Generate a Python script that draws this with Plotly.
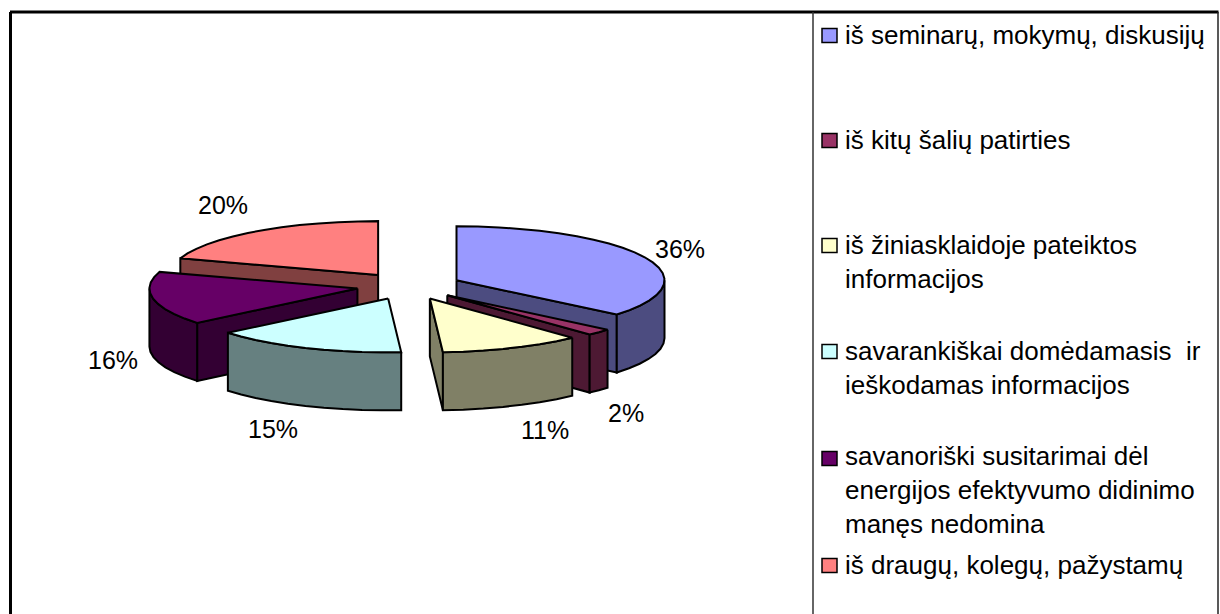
import math
import plotly.graph_objects as go

# ---- data ----
categories = [
    "iš seminarų, mokymų, diskusijų",
    "iš kitų šalių patirties",
    "iš žiniasklaidoje pateiktos<br>informacijos",
    "savarankiškai domėdamasis  ir<br>ieškodamas informacijos",
    "savanoriški susitarimai dėl<br>energijos efektyvumo didinimo<br>manęs nedomina",
    "iš draugų, kolegų, pažystamų",
]
values = [36, 2, 11, 15, 16, 20]

# ---- style ----
top_colors = ["#9999FF", "#993366", "#FFFFCC", "#CCFFFF", "#660066", "#FF8080"]
side_colors = ["#4C4C80", "#4D1933", "#808066", "#668080", "#330033", "#804040"]
FONT = "Liberation Sans, Arial, sans-serif"
PCT_SIZE = 25
LEG_SIZE = 26
LINE_W = 2

# ---- layout of the pie (projection in pixel-like axis units) ----
CX, CY = 409.0, 286.0      # pie centre
RX, RATIO = 208.0, 0.259   # radius, vertical squash
PULL = 52.5                # explosion distance
DEPTH = 58.0               # extrusion height
paint_order = [5, 4, 3, 0, 1, 2]
label_pos = [(680, 249), (626, 413), (545, 430), (273, 429), (113, 360), (223, 205)]
legend_y = [35, 140, 262, 368, 490, 565]   # vertical centre of each entry
legend_swatch_y = [35.5, 140.5, 245.5, 351.5, 458.5, 565.5]
LEG_TEXT_X, SW_X0, SW_X1 = 843, 822, 837

total = sum(values)
starts, cum = [], 0
for v in values:
    starts.append(cum)
    cum += v


def to_rad(share):
    return 2 * math.pi * share / total


def project(ax, ay, ang, r=RX):
    return ax + r * math.sin(ang), ay - r * RATIO * math.cos(ang)


def arc(ax, ay, a0, a1, n=60):
    steps = max(2, int(n * (a1 - a0) / (2 * math.pi)) + 2)
    pts = [project(ax, ay, a0 + (a1 - a0) * i / (steps - 1)) for i in range(steps)]
    return pts


def poly(pts, fill, name):
    xs = [p[0] for p in pts] + [pts[0][0]]
    ys = [p[1] for p in pts] + [pts[0][1]]
    return go.Scatter(
        x=xs, y=ys, mode="lines", fill="toself", fillcolor=fill, name=name,
        line=dict(color="black", width=LINE_W, simplify=False),
        showlegend=False, hoverinfo="name",
    )


fig = go.Figure()
for idx in paint_order:
    a0 = to_rad(starts[idx])
    a1 = to_rad(starts[idx] + values[idx])
    mid = (a0 + a1) / 2
    ax = CX + PULL * math.sin(mid)
    ay = CY - PULL * RATIO * math.cos(mid)
    name = categories[idx].replace("<br>", " ")
    # radial walls that face the viewer
    for ang, visible in ((a0, math.sin(a0) < -1e-9), (a1, math.sin(a1) > 1e-9)):
        if visible:
            p = project(ax, ay, ang)
            fig.add_trace(poly([(ax, ay), p, (p[0], p[1] + DEPTH), (ax, ay + DEPTH)],
                               side_colors[idx], name))
    # front outer wall
    w0, w1 = max(a0, math.pi / 2), min(a1, 3 * math.pi / 2)
    if w1 > w0:
        rim = arc(ax, ay, w0, w1)
        fig.add_trace(poly(rim + [(x, y + DEPTH) for x, y in reversed(rim)],
                           side_colors[idx], name))
    # top face
    fig.add_trace(poly([(ax, ay)] + arc(ax, ay, a0, a1), top_colors[idx], name))

shapes = [
    dict(type="line", x0=10.5, x1=10.5, y0=12, y1=614, line=dict(color="black", width=3)),
    dict(type="line", x0=10, x1=1218.5, y0=12, y1=12, line=dict(color="black", width=3)),
    dict(type="line", x0=813, x1=813, y0=12, y1=614, line=dict(color="#333333", width=1.5)),
    dict(type="line", x0=1218, x1=1218, y0=12, y1=614, line=dict(color="#222222", width=1.5)),
]
annotations = []
for v, (lx, ly) in zip(values, label_pos):
    annotations.append(dict(x=lx, y=ly, text=f"{v}%", showarrow=False,
                            font=dict(family=FONT, size=PCT_SIZE, color="black")))
for i, cat in enumerate(categories):
    sy = legend_swatch_y[i]
    shapes.append(dict(type="rect", x0=SW_X0, x1=SW_X1, y0=sy - 7, y1=sy + 7,
                       fillcolor=top_colors[i], line=dict(color="black", width=1.5)))
    annotations.append(dict(x=LEG_TEXT_X, y=legend_y[i], text=cat, showarrow=False,
                            xanchor="left", align="left", yanchor="middle",
                            font=dict(family=FONT, size=LEG_SIZE, color="black")))

fig.update_layout(
    width=1220, height=614, autosize=False,
    margin=dict(l=0, r=0, t=0, b=0),
    paper_bgcolor="white", plot_bgcolor="white",
    xaxis=dict(range=[0, 1220], visible=False, fixedrange=True),
    yaxis=dict(range=[614, 0], visible=False, fixedrange=True),
    shapes=shapes, annotations=annotations, showlegend=False,
)
fig.write_html("out.html", config=dict(displayModeBar=False),
               default_width="1220px", default_height="614px",
               post_script="document.body.style.margin='0';document.body.style.overflow='hidden';")
